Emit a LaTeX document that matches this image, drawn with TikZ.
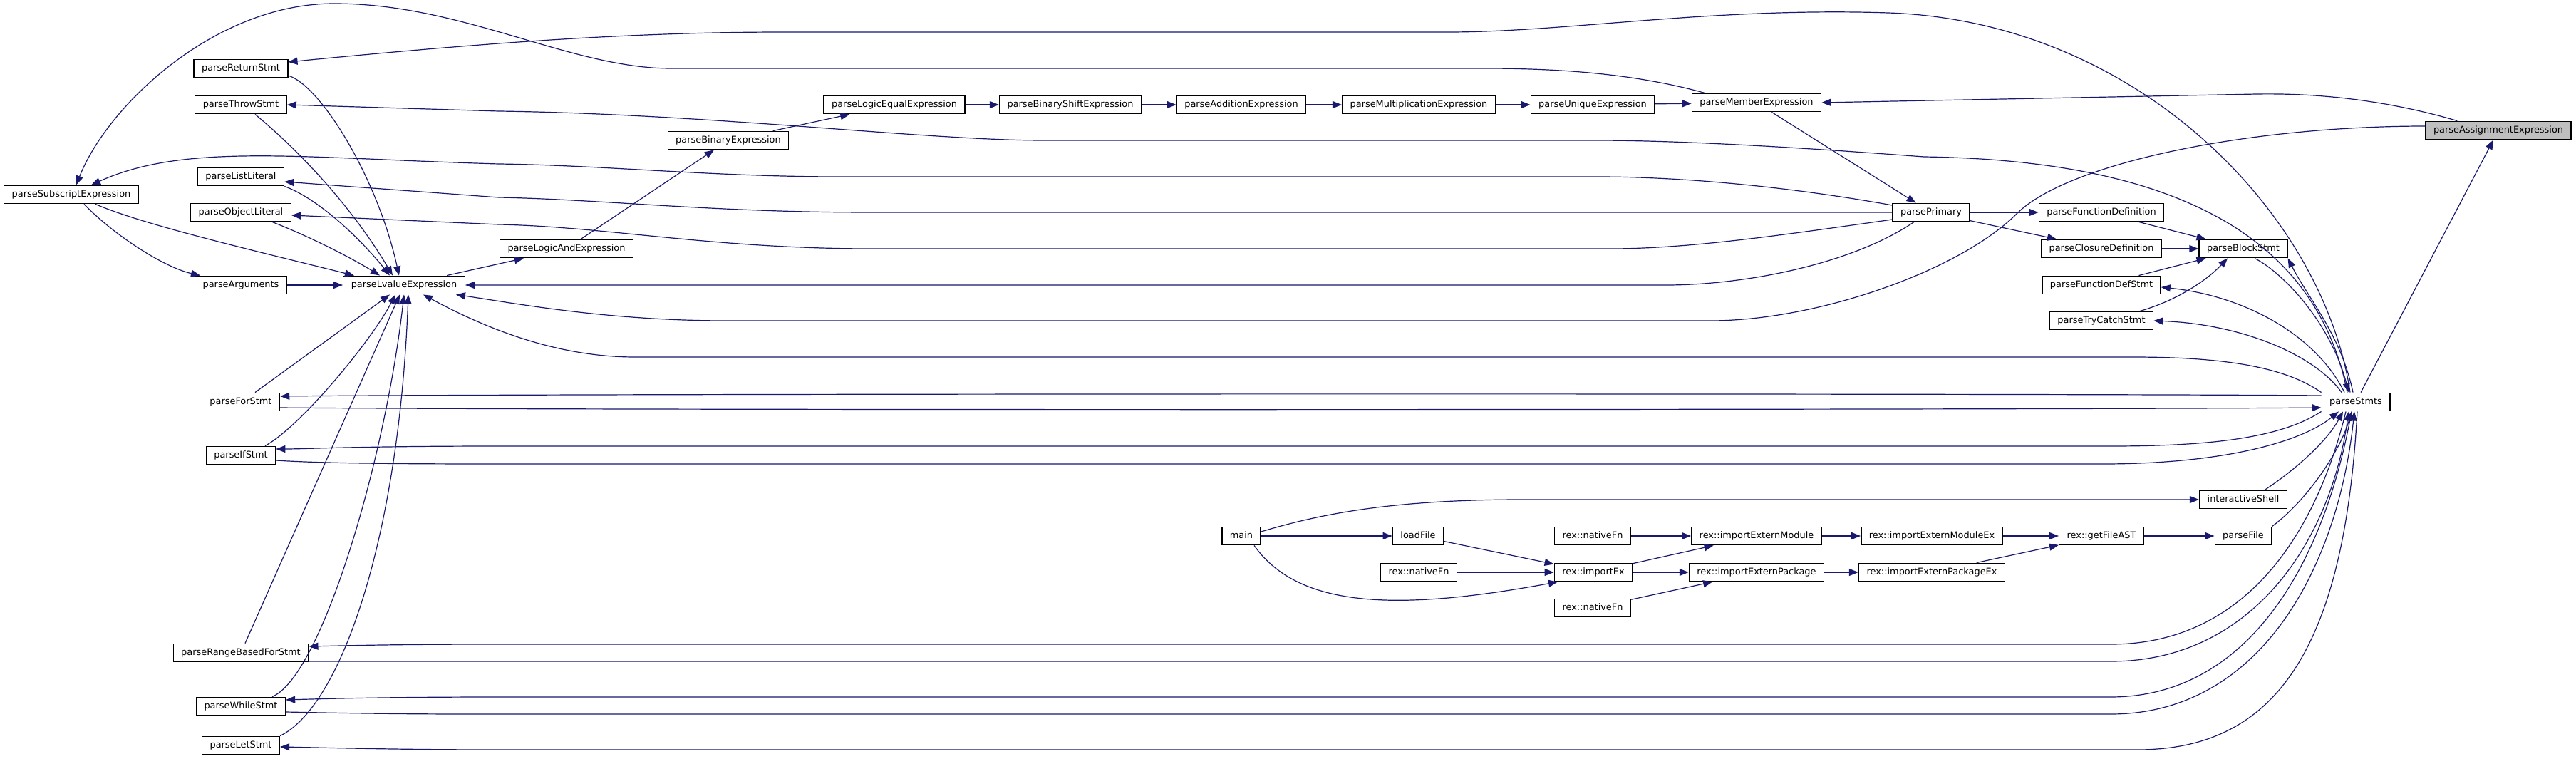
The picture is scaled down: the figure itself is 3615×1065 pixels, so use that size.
\documentclass[tikz,border=0pt]{standalone}
\usepackage{fontspec}
\setmainfont{DejaVu Sans}
\usetikzlibrary{arrows.meta}
\definecolor{edgeblue}{HTML}{191970}
\definecolor{focusgray}{HTML}{BFBFBF}

\begin{document}
\begin{tikzpicture}[x=0.5pt, y=-0.5pt,
			box/.style={draw, line width=0.7pt, rectangle, fill=white, minimum height=12.75pt, inner xsep=5.5pt, inner ysep=0pt, text height=4.8pt, text depth=1.4pt, font=\fontsize{6.45}{7.5}\selectfont},
			focus/.style={box, fill=focusgray},
			arrow/.style={-{Triangle[length=6.5pt,width=5pt]}, draw=edgeblue, line width=0.6pt}]
			
			\path[use as bounding box, fill=white] (0,0) rectangle (3615,1065);
			
			\node[focus] (assign) at (3506,183) {parseAssignmentExpression};
			\node[box] (stmts) at (3306,564) {parseStmts};
			\node[box] (member) at (2465,144) {parseMemberExpression};
			\node[box] (unique) at (2235,147) {parseUniqueExpression};
			\node[box] (mult) at (1991,147) {parseMultiplicationExpression};
			\node[box] (addition) at (1742,147) {parseAdditionExpression};
			\node[box] (shift) at (1502,147) {parseBinaryShiftExpression};
			\node[box] (logiceq) at (1255,147) {parseLogicEqualExpression};
			\node[box] (binary) at (1022,197) {parseBinaryExpression};
			\node[box] (logicand) at (795,349) {parseLogicAndExpression};
			\node[box] (lvalue) at (567,400) {parseLvalueExpression};
			\node[box] (primary) at (2710,298) {parsePrimary};
			\node[box] (funcdef) at (2949,298) {parseFunctionDefinition};
			\node[box] (closure) at (2949,349) {parseClosureDefinition};
			\node[box] (block) at (3148,349) {parseBlockStmt};
			\node[box] (funcstmt) at (2949,400) {parseFunctionDefStmt};
			\node[box] (trycatch) at (2949,450) {parseTryCatchStmt};
			\node[box] (shell) at (3148,701) {interactiveShell};
			\node[box] (pfile) at (3148,752) {parseFile};
			\node[box] (getast) at (2949,752) {rex::getFileAST};
			\node[box] (modex) at (2711,752) {rex::importExternModuleEx};
			\node[box] (pkgex) at (2711,803) {rex::importExternPackageEx};
			\node[box] (extmod) at (2465,752) {rex::importExternModule};
			\node[box] (extpkg) at (2465,803) {rex::importExternPackage};
			\node[box] (native1) at (2235,752) {rex::nativeFn};
			\node[box] (importex) at (2236,803) {rex::importEx};
			\node[box] (native3) at (2235,853) {rex::nativeFn};
			\node[box] (native2) at (1991,803) {rex::nativeFn};
			\node[box] (loadfile) at (1990,752) {loadFile};
			\node[box] (main) at (1742,752) {main};
			\node[box] (subscript) at (100,273) {parseSubscriptExpression};
			\node[box] (ret) at (338,96) {parseReturnStmt};
			\node[box] (throw) at (338,147) {parseThrowStmt};
			\node[box] (list) at (338,248) {parseListLiteral};
			\node[box] (object) at (338,298) {parseObjectLiteral};
			\node[box] (args) at (338,400) {parseArguments};
			\node[box] (forstmt) at (338,564) {parseForStmt};
			\node[box] (ifstmt) at (338,639) {parseIfStmt};
			\node[box] (rangefor) at (338,916) {parseRangeBasedForStmt};
			\node[box] (whilestmt) at (338,991) {parseWhileStmt};
			\node[box] (letstmt) at (338,1046) {parseLetStmt};
			
			\draw[arrow] (logiceq) -- (shift);
			\draw[arrow] (shift) -- (addition);
			\draw[arrow] (addition) -- (mult);
			\draw[arrow] (mult) -- (unique);
			\draw[arrow] (unique) -- (member);
			\draw[arrow] (binary) -- (logiceq);
			\draw[arrow] (logicand) -- (binary);
			\draw[arrow] (lvalue) -- (logicand);
			\draw[arrow] (args) -- (lvalue);
			\draw[arrow] (member) -- (primary);
			\draw[arrow] (primary) -- (funcdef);
			\draw[arrow] (primary) -- (closure);
			\draw[arrow] (funcdef) -- (block);
			\draw[arrow] (closure) -- (block);
			\draw[arrow] (funcstmt) -- (block);
			\draw[arrow] (stmts) -- (assign);
			
			\draw[arrow] (main) -- (loadfile);
			\draw[arrow] (loadfile) -- (importex);
			\draw[arrow] (native2) -- (importex);
			\draw[arrow] (native1) -- (extmod);
			\draw[arrow] (importex) -- (extmod);
			\draw[arrow] (importex) -- (extpkg);
			\draw[arrow] (native3) -- (extpkg);
			\draw[arrow] (extmod) -- (modex);
			\draw[arrow] (extpkg) -- (pkgex);
			\draw[arrow] (modex) -- (getast);
			\draw[arrow] (pkgex) -- (getast);
			\draw[arrow] (getast) -- (pfile);
			\draw[arrow] ([xshift=9pt]main.south) .. controls (1820,850) and (1950,860) .. ([xshift=-25pt]importex.south);
			\draw[arrow] ([yshift=3pt]main.east) .. controls (1850,722) and (1950,701) .. (2136,701) -- (shell.west);
			\draw[arrow] ([xshift=15pt]shell.north) .. controls (3220,660) and (3265,620) .. ([xshift=-9pt]stmts.south);
			\draw[arrow] (pfile.north east) .. controls (3240,700) and (3285,630) .. ([xshift=-3pt]stmts.south);
			
			\draw[arrow] ([yshift=4.5pt]stmts.west) .. controls (2900,552) and (800,552) .. ([yshift=4pt]forstmt.east);
			\draw[arrow] ([yshift=-4pt]forstmt.east) .. controls (800,576) and (2900,575) .. ([yshift=-4pt]stmts.west);
			\draw[arrow] (stmts.south west) .. controls (3200,615) and (3100,626) .. (2962,626) -- (700,626) .. controls (500,626) and (430,630) .. ([yshift=4.5pt]ifstmt.east);
			\draw[arrow] ([yshift=-3.5pt]ifstmt.east) .. controls (450,650) and (550,651) .. (700,651) -- (2951,651) .. controls (3120,651) and (3230,620) .. ([xshift=-12pt]stmts.south);
			\draw[arrow] ([xshift=-7pt]stmts.south) .. controls (3250,750) and (3150,904) .. (2962,904) -- (700,904) .. controls (550,904) and (480,906) .. ([yshift=4.5pt]rangefor.east);
			\draw[arrow] ([yshift=-6pt]rangefor.east) .. controls (550,928) and (600,928) .. (700,928) -- (2962,928) .. controls (3160,928) and (3270,760) .. ([xshift=-5pt]stmts.south);
			\draw[arrow] ([xshift=-3pt]stmts.south) .. controls (3260,800) and (3150,978) .. (2962,978) -- (700,978) .. controls (550,978) and (470,980) .. ([yshift=4.5pt]whilestmt.east);
			\draw[arrow] ([yshift=-4pt]whilestmt.east) .. controls (550,1002) and (600,1002) .. (700,1002) -- (2962,1002) .. controls (3170,1002) and (3280,800) .. ([xshift=-1pt]stmts.south);
			\draw[arrow] ([xshift=1pt]stmts.south) .. controls (3290,900) and (3200,1052) .. (3000,1052) -- (700,1052) .. controls (550,1052) and (450,1049) .. ([yshift=-1pt]letstmt.east);
			
			\draw[arrow] (stmts.north west) .. controls (3200,510) and (3100,501) .. (2992,501) -- (891,501) .. controls (780,501) and (680,460) .. ([xshift=13.5pt]lvalue.south);
			\draw[arrow] ([yshift=3pt]assign.west) .. controls (3150,177) and (2900,230) .. (2830,300) .. controls (2750,380) and (2550,450) .. (2401,450) -- (1019,450) .. controls (850,450) and (720,425) .. ([xshift=-6.5pt]lvalue.south east);
			\draw[arrow] ([xshift=-12pt]primary.south) .. controls (2600,370) and (2450,400) .. (2338,400) -- (lvalue.east);
			\draw[arrow] ([yshift=-5pt]primary.west) .. controls (2500,330) and (2370,349) .. (2261,349) -- (1223,349) .. controls (1000,349) and (850,318) .. (700,315) -- ([yshift=-2pt]object.east);
			\draw[arrow] (primary.west) -- (1223,298) .. controls (1000,298) and (850,280) .. (700,277) -- ([yshift=-3.5pt]list.east);
			\draw[arrow] ([yshift=5pt]primary.west) .. controls (2500,260) and (2350,248) .. (2242,248) -- (1178,248) .. controls (1000,248) and (850,232) .. (700,230) .. controls (420,222) and (260,200) .. ([xshift=14pt]subscript.north);
			\draw[arrow] ([xshift=9.5pt]member.north west) .. controls (2300,105) and (2200,96) .. (2083,96) -- (942,96) .. controls (800,96) and (650,5) .. (469,5) .. controls (300,5) and (150,150) .. ([xshift=3.5pt]subscript.north);
			\draw[arrow] ([xshift=-4pt]stmts.north) .. controls (3260,300) and (3000,30) .. (2650,18) .. controls (2400,10) and (2200,45) .. (2032,45) -- (1100,45) .. controls (900,45) and (700,58) .. ([yshift=4.5pt]ret.east);
			\draw[arrow] ([xshift=-6pt]stmts.north) .. controls (3250,330) and (3050,225) .. (2700,220) .. controls (2500,205) and (2350,197) .. (2236,197) -- (1465,197) .. controls (1300,197) and (1000,160) .. (700,156) -- (throw.east);
			\draw[arrow] ([xshift=-8pt]stmts.north) .. controls (3250,470) and (3150,415) .. ([yshift=-1.5pt]funcstmt.east);
			\draw[arrow] ([xshift=-10pt]stmts.north) .. controls (3250,500) and (3150,455) .. (trycatch.east);
			\draw[arrow] ([xshift=8pt]block.south) .. controls (3200,380) and (3270,450) .. ([xshift=-5pt]stmts.north);
			\draw[arrow] ([xshift=-2pt]stmts.north) .. controls (3285,470) and (3240,420) .. (block.south east);
			\draw[arrow] ([xshift=27pt]trycatch.north) .. controls (3060,420) and (3100,390) .. ([xshift=-11pt]block.south);
			\draw[arrow] ([xshift=22.5pt]assign.north west) .. controls (3330,135) and (3230,131) .. (3167,132) -- (member.east);
			
			\draw[arrow] ([yshift=-5pt]ret.east) .. controls (450,120) and (530,250) .. ([xshift=-3.5pt]lvalue.north);
			\draw[arrow] ([xshift=10pt]throw.south) .. controls (430,220) and (500,300) .. ([xshift=-8pt]lvalue.north);
			\draw[arrow] (list.south east) .. controls (450,280) and (510,340) .. ([xshift=-10pt]lvalue.north);
			\draw[arrow] ([xshift=22pt]object.south) .. controls (430,330) and (490,360) .. ([xshift=-17pt]lvalue.north);
			\draw[arrow] ([xshift=9pt]subscript.south) .. controls (160,330) and (230,375) .. ([xshift=-28.5pt]args.north);
			\draw[arrow] ([xshift=17pt]subscript.south) .. controls (200,315) and (350,350) .. ([xshift=-35pt]lvalue.north);
			\draw[arrow] ([xshift=10pt]forstmt.north) -- ([xshift=-10pt]lvalue.south);
			\draw[arrow] ([xshift=17pt]ifstmt.north) .. controls (420,600) and (520,480) .. ([xshift=-6pt]lvalue.south);
			\draw[arrow] ([xshift=3pt]rangefor.north) -- ([xshift=-3pt]lvalue.south);
			\draw[arrow] ([xshift=22pt]whilestmt.north) .. controls (450,950) and (540,650) .. (lvalue.south);
			\draw[arrow] (letstmt.north east) .. controls (480,990) and (560,750) .. ([xshift=3pt]lvalue.south);
			
		\end{tikzpicture}
\end{document}
